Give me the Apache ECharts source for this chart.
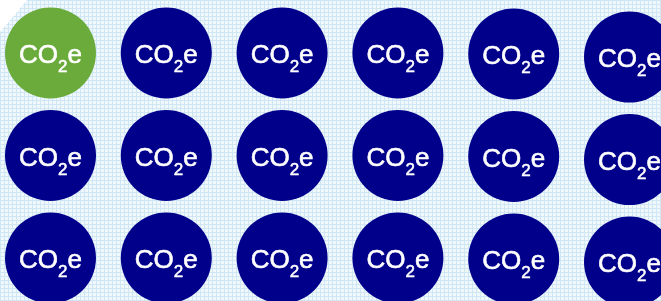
<!DOCTYPE html>
<html>
<head>
<meta charset="utf-8">
<script src="https://cdn.jsdelivr.net/npm/echarts@6/dist/echarts.min.js"></script>
<style>
html,body{margin:0;padding:0;background:#fff;}
#chart{width:661px;height:301px;}
</style>
</head>
<body>
<div id="chart"></div>
<script>
// Grid of CO2e tokens
var columns = [0, 1, 2, 3, 4, 5];
var rows = [0, 1, 2];
// slight vertical drift of each column (in row units)
var columnDrift = [0, 0, 0, 0, 0.01, 0.04];
var highlighted = [[0, 0]];
var labelMain = ['CO', 'e'];
var labelSub = '2';

var greenColor = '#6aab3b';
var navyColor = '#00008b';

function makePattern() {
  var c = document.createElement('canvas');
  c.width = 4; c.height = 4;
  var ctx = c.getContext('2d');
  ctx.fillStyle = '#f1f8fc';
  ctx.fillRect(0, 0, 4, 4);
  ctx.fillStyle = '#cfe6f5';
  ctx.fillRect(0, 0, 1, 4);
  ctx.fillRect(0, 0, 4, 1);
  return c;
}

var data = [];
rows.forEach(function (r) {
  columns.forEach(function (c, i) {
    var hi = highlighted.some(function (h) { return h[0] === c && h[1] === r; });
    data.push({
      value: [c, r + columnDrift[i]],
      itemStyle: { color: hi ? greenColor : navyColor, opacity: 1 }
    });
  });
});

var chart = echarts.init(document.getElementById('chart'), null, { renderer: 'canvas' });
chart.setOption({
  backgroundColor: { image: makePattern(), repeat: 'repeat' },
  animation: false,
  grid: { left: 50.5, right: 31.5, top: 53, bottom: 32.75 },
  xAxis: { type: 'value', min: 0, max: 5, show: false },
  yAxis: { type: 'value', min: 0, max: 2.1, inverse: true, show: false },
  graphic: [{
    type: 'polygon',
    z: -1,
    shape: { points: [[0, 0], [27, 0], [0, 32]] },
    style: { fill: '#ffffff' },
    silent: true
  }],
  series: [{
    type: 'scatter',
    symbol: 'circle',
    symbolSize: 91,
    clip: false,
    itemStyle: { opacity: 1 },
    data: data,
    label: {
      show: true,
      position: 'inside',
      offset: [0, 3],
      formatter: '{a|' + labelMain[0] + '}{b|' + labelSub + '}{a|' + labelMain[1] + '}',
      rich: {
        a: { fontFamily: 'Liberation Sans', fontSize: 26, color: '#ffffff', lineHeight: 26,
             textBorderColor: '#ffffff', textBorderWidth: 0.6 },
        b: { fontFamily: 'Liberation Sans', fontSize: 17, color: '#ffffff', lineHeight: 40, verticalAlign: 'bottom',
             textBorderColor: '#ffffff', textBorderWidth: 0.5 }
      }
    }
  }]
});
</script>
</body>
</html>
